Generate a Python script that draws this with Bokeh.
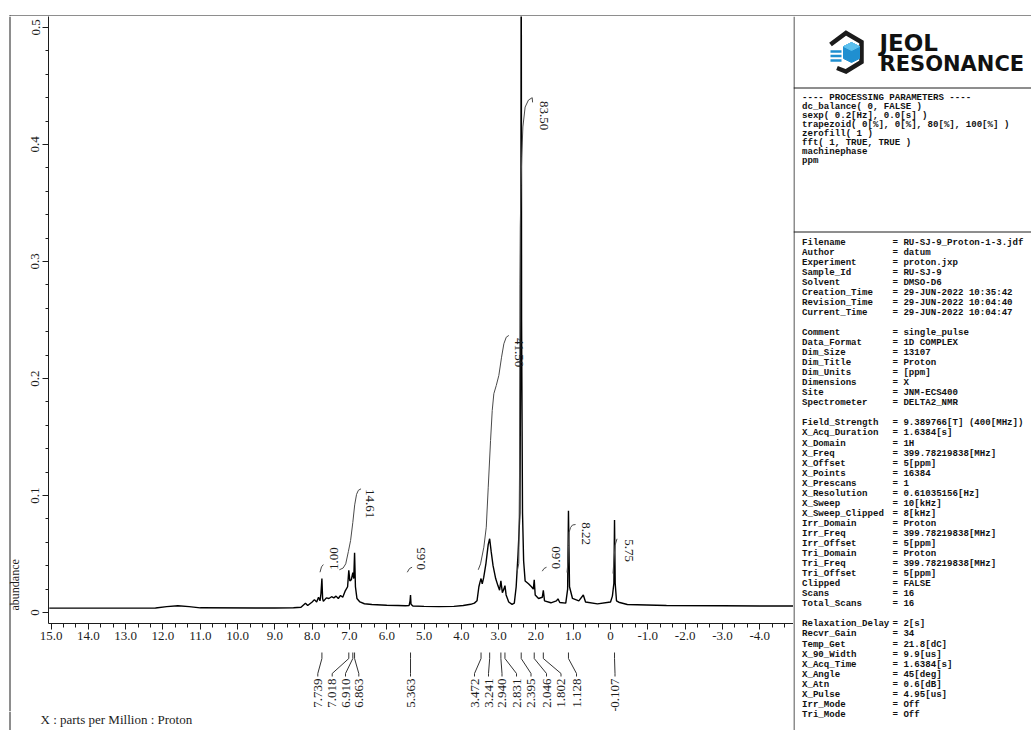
from math import pi
from bokeh.plotting import figure
from bokeh.layouts import row, column
from bokeh.models import Range1d, FixedTicker
from bokeh.core.properties import value
from bokeh.embed import file_html
from bokeh.resources import INLINE

# ---------------- data ----------------
SPEC_PPM = [
    15.05, 13.0, 12.2, 11.9, 11.6, 11.3, 11.0, 9.0, 8.5, 8.30,
    8.18, 8.12, 8.00, 7.94, 7.88, 7.83, 7.79, 7.765, 7.739, 7.72,
    7.70, 7.62, 7.55, 7.48, 7.42, 7.36, 7.30, 7.24, 7.18, 7.12,
    7.05, 7.018, 6.99, 6.95, 6.91, 6.885, 6.863, 6.84, 6.80, 6.72,
    6.60, 6.40, 6.00, 5.70, 5.50, 5.40, 5.375, 5.363, 5.35, 5.30,
    5.0, 4.6, 4.2, 3.95, 3.75, 3.65, 3.58, 3.53, 3.50, 3.472,
    3.44, 3.40, 3.34, 3.28, 3.241, 3.20, 3.15, 3.08, 3.02, 2.975,
    2.94, 2.90, 2.86, 2.831, 2.80, 2.73, 2.64, 2.58, 2.53, 2.48,
    2.43, 2.405, 2.395, 2.385, 2.36, 2.33, 2.29, 2.20, 2.12, 2.07,
    2.046, 2.02, 1.93, 1.83, 1.802, 1.77, 1.60, 1.45, 1.41, 1.36,
    1.20, 1.15, 1.128, 1.10, 1.02, 0.85, 0.73, 0.67, 0.35, 0.0,
    -0.05, -0.09, -0.107, -0.125, -0.16, -0.22, -0.45, -1.5, -3.0, -4.0,
    -4.95]
SPEC_ABUND = [
    0.0037, 0.0037, 0.0038, 0.0050, 0.0058, 0.0050, 0.0040, 0.0038, 0.0040, 0.0045,
    0.0080, 0.0060, 0.0090, 0.0110, 0.0090, 0.0130, 0.0100, 0.0160, 0.0290, 0.0120,
    0.0095, 0.0125, 0.0120, 0.0135, 0.0125, 0.0140, 0.0120, 0.0145, 0.0130, 0.0180,
    0.0220, 0.0360, 0.0270, 0.0280, 0.0340, 0.0290, 0.0510, 0.0220, 0.0120, 0.0090,
    0.0075, 0.0068, 0.0062, 0.0060, 0.0058, 0.0060, 0.0100, 0.0150, 0.0070, 0.0055,
    0.0052, 0.0050, 0.0052, 0.0060, 0.0070, 0.0080, 0.0100, 0.0220, 0.0260, 0.0290,
    0.0245, 0.0300, 0.0420, 0.0580, 0.0630, 0.0520, 0.0400, 0.0290, 0.0230, 0.0190,
    0.0270, 0.0170, 0.0200, 0.0230, 0.0150, 0.0090, 0.0070, 0.0080, 0.0220, 0.0500,
    0.0850, 0.2500, 0.6200, 0.2500, 0.0850, 0.0440, 0.0270, 0.0245, 0.0220, 0.0200,
    0.0280, 0.0150, 0.0120, 0.0130, 0.0190, 0.0100, 0.0083, 0.0100, 0.0117, 0.0085,
    0.0080, 0.0200, 0.0870, 0.0220, 0.0120, 0.0100, 0.0150, 0.0090, 0.0074, 0.0090,
    0.0140, 0.0250, 0.0790, 0.0250, 0.0100, 0.0088, 0.0068, 0.0060, 0.0058, 0.0055,
    0.0055]

INT_LABELS = ["1.00", "14.61", "0.65", "41.50", "83.50", "0.60", "8.22", "5.75"]
INT_PPM = [
    [7.79, 7.75, 7.70],
    [7.27, 7.17, 7.10, 7.03, 6.97, 6.91, 6.86, 6.81, 6.76, 6.69],
    [5.45, 5.39, 5.32],
    [3.547, 3.485, 3.397, 3.332, 3.279, 3.217, 3.172, 3.129, 3.064, 2.995, 2.922, 2.86, 2.796, 2.727],
    [2.507, 2.46, 2.44, 2.43, 2.42, 2.40, 2.38, 2.35, 2.29, 2.20, 2.10, 2.09],
    [1.831, 1.783, 1.716],
    [1.166, 1.139, 1.126, 1.113, 1.072, 1.019, 0.938],
    [-0.067, -0.121, -0.174],
]
INT_ABUND = [
    [0.0344, 0.0390, 0.0410],
    [0.0365, 0.0380, 0.0416, 0.0520, 0.0615, 0.0770, 0.0920, 0.1010, 0.1045, 0.1057],
    [0.0344, 0.0376, 0.0387],
    [0.0365, 0.0416, 0.0558, 0.0729, 0.1071, 0.1470, 0.1726, 0.1870, 0.1940, 0.2026, 0.2182, 0.2297, 0.2353, 0.2368],
    [0.0342, 0.0420, 0.1200, 0.2800, 0.3300, 0.3650, 0.3900, 0.4150, 0.4320, 0.4380, 0.4400, 0.4360],
    [0.0353, 0.0376, 0.0387],
    [0.0342, 0.0444, 0.0573, 0.0684, 0.0726, 0.0748, 0.0752],
    [0.0333, 0.0573, 0.0630],
]

PEAK_PPM = [7.739, 7.018, 6.910, 6.863, 5.363, 3.472, 3.241, 2.940, 2.831,
            2.395, 2.046, 1.802, 1.128, -0.107]
PEAK_LABELS = ["7.739", "7.018", "6.910", "6.863", "5.363", "3.472", "3.241",
               "2.940", "2.831", "2.395", "2.046", "1.802", "1.128", "-0.107"]

X_TICKS = [15.0, 14.0, 13.0, 12.0, 11.0, 10.0, 9.0, 8.0, 7.0, 6.0, 5.0, 4.0,
           3.0, 2.0, 1.0, 0.0, -1.0, -2.0, -3.0, -4.0]
X_TICK_LABELS = ["15.0", "14.0", "13.0", "12.0", "11.0", "10.0", "9.0", "8.0",
                 "7.0", "6.0", "5.0", "4.0", "3.0", "2.0", "1.0", "0", "-1.0",
                 "-2.0", "-3.0", "-4.0"]
Y_TICKS = [0.0, 0.1, 0.2, 0.3, 0.4, 0.5]
Y_TICK_LABELS = ["0", "0.1", "0.2", "0.3", "0.4", "0.5"]

X_TITLE = "X : parts per Million : Proton"
Y_TITLE = "abundance"

PROC_LINES = [
    "---- PROCESSING PARAMETERS ----",
    "dc_balance( 0, FALSE )",
    "sexp( 0.2[Hz], 0.0[s] )",
    "trapezoid( 0[%], 0[%], 80[%], 100[%] )",
    "zerofill( 1 )",
    "fft( 1, TRUE, TRUE )",
    "machinephase",
    "ppm",
]
PARAM_NAMES = [
    "Filename", "Author", "Experiment", "Sample_Id", "Solvent", "Creation_Time",
    "Revision_Time", "Current_Time", "",
    "Comment", "Data_Format", "Dim_Size", "Dim_Title", "Dim_Units", "Dimensions",
    "Site", "Spectrometer", "",
    "Field_Strength", "X_Acq_Duration", "X_Domain", "X_Freq", "X_Offset",
    "X_Points", "X_Prescans", "X_Resolution", "X_Sweep", "X_Sweep_Clipped",
    "Irr_Domain", "Irr_Freq", "Irr_Offset", "Tri_Domain", "Tri_Freq",
    "Tri_Offset", "Clipped", "Scans", "Total_Scans", "",
    "Relaxation_Delay", "Recvr_Gain", "Temp_Get", "X_90_Width", "X_Acq_Time",
    "X_Angle", "X_Atn", "X_Pulse", "Irr_Mode", "Tri_Mode",
]
PARAM_VALUES = [
    "RU-SJ-9_Proton-1-3.jdf", "datum", "proton.jxp", "RU-SJ-9", "DMSO-D6",
    "29-JUN-2022 10:35:42", "29-JUN-2022 10:04:40", "29-JUN-2022 10:04:47", "",
    "single_pulse", "1D COMPLEX", "13107", "Proton", "[ppm]", "X",
    "JNM-ECS400", "DELTA2_NMR", "",
    "9.389766[T] (400[MHz])", "1.6384[s]", "1H", "399.78219838[MHz]", "5[ppm]",
    "16384", "1", "0.61035156[Hz]", "10[kHz]", "8[kHz]",
    "Proton", "399.78219838[MHz]", "5[ppm]", "Proton", "399.78219838[MHz]",
    "5[ppm]", "FALSE", "16", "16", "",
    "2[s]", "34", "21.8[dC]", "9.9[us]", "1.6384[s]",
    "45[deg]", "0.6[dB]", "4.95[us]", "Off", "Off",
]

# ---------------- layout (page pixels) ----------------
PAGE_W, PAGE_H = 1031, 730
TOP_H = 16                      # strip holding the top rule
LEFT_W = 21                     # strip holding "abundance"
PANEL_X0 = 793                  # right information panel
MAIN_W = PANEL_X0 - LEFT_W      # 772
MAIN_BORDER_L = 27              # y axis space -> frame starts at x=48
FRAME_X0 = LEFT_W + MAIN_BORDER_L
FRAME_W = PANEL_X0 - FRAME_X0   # 745
FRAME_Y1 = 623                  # frame bottom (page y)
MAIN_Y1 = 650                   # bottom of the main figure
PICK_Y1 = 711                   # bottom of the peak-pick strip
MAIN_H = MAIN_Y1 - TOP_H
PICK_H = PICK_Y1 - MAIN_Y1
BOTTOM_H = PAGE_H - PICK_Y1

X_START, X_END = 15.07, -4.906
Y_START, Y_END = -0.0094, 0.5094
PX_PER_PPM = FRAME_W / (X_START - X_END)

SERIF = "Liberation Serif"
MONO = "Liberation Mono"
INK = "#1c1c1c"


def px_to_ppm(X):
    return X_START - (X - FRAME_X0) / PX_PER_PPM


def blank(w, h, xr, yr):
    f = figure(width=w, height=h, x_range=xr, y_range=yr, output_backend="svg",
               toolbar_location=None, x_axis_type=None, y_axis_type=None,
               min_border=0)
    f.outline_line_color = None
    f.background_fill_color = "white"
    f.border_fill_color = "white"
    return f


# ---- main spectrum plot ----
main = figure(width=MAIN_W, height=MAIN_H, output_backend="svg", toolbar_location=None,
              x_range=Range1d(X_START, X_END), y_range=Range1d(Y_START, Y_END),
              min_border_left=MAIN_BORDER_L, min_border_right=0, min_border_top=0,
              min_border_bottom=MAIN_Y1 - FRAME_Y1)
main.grid.visible = False
main.outline_line_color = None
main.background_fill_color = "white"
main.border_fill_color = "white"

minor_x = [k / 3 for k in range(-14, 46) if k % 3]
main.xaxis.ticker = FixedTicker(ticks=X_TICKS, minor_ticks=minor_x)
main.xaxis.major_label_overrides = dict(zip(X_TICKS, X_TICK_LABELS))
minor_y = [k / 50 for k in range(0, 26) if k % 5]
main.yaxis.ticker = FixedTicker(ticks=Y_TICKS, minor_ticks=minor_y)
main.yaxis.major_label_overrides = dict(zip(Y_TICKS, Y_TICK_LABELS))
main.yaxis.major_label_orientation = "vertical"
for ax in (main.xaxis, main.yaxis):
    ax.axis_line_color = INK
    ax.major_tick_line_color = INK
    ax.minor_tick_line_color = INK
    ax.major_tick_in = 0
    ax.minor_tick_in = 0
    ax.major_tick_out = 6
    ax.minor_tick_out = 4
    ax.major_label_text_font = SERIF
    ax.major_label_text_font_size = "13px"
    ax.major_label_text_color = INK
main.yaxis.major_tick_out = 6
main.yaxis.minor_tick_out = 3
main.xaxis.major_label_standoff = 2
main.yaxis.major_label_standoff = 3

main.line(SPEC_PPM, SPEC_ABUND, line_color="black", line_width=1.4)
for xs, ys in zip(INT_PPM, INT_ABUND):
    main.line(xs, ys, line_color="#4a4a4a", line_width=1)

# integral values: page-pixel layout positions converted through the axis spans
INT_POS = [(333.5, 558, pi / 2), (369.5, 503, -pi / 2), (420, 558, pi / 2),
           (518, 352, -pi / 2), (543.5, 115, -pi / 2), (555, 557, pi / 2),
           (585, 533, -pi / 2), (628.5, 550, -pi / 2)]
ab_per_px = (Y_END - Y_START) / (FRAME_Y1 - TOP_H)
for lab, (X, Y, ang) in zip(INT_LABELS, INT_POS):
    main.text(x=[px_to_ppm(X)], y=[Y_START + (FRAME_Y1 - Y) * ab_per_px], text=[lab],
              angle=ang, text_font=value(SERIF), text_font_size="13px",
              text_color=INK, text_align="center", text_baseline="middle")

# ---- strip below the x axis: peak picks (frame aligned with the main plot) ----
pick = blank(MAIN_W, PICK_H, main.x_range, Range1d(-PICK_Y1, -MAIN_Y1))
LABEL_X = [317.3, 331.7, 345.0, 358.3, 410.0, 474.0, 488.0, 501.5, 516.0,
           530.5, 546.0, 560.5, 576.0, 614.5]
lab_ppm = [px_to_ppm(X) for X in LABEL_X]
pick.multi_line(xs=[[a, a, b, b] for a, b in zip(PEAK_PPM, lab_ppm)],
                ys=[[-652, -658, -673, -676]] * len(PEAK_PPM),
                line_color="#333333", line_width=1)
pick.text(x=lab_ppm, y=[-678] * len(lab_ppm), text=PEAK_LABELS, angle=pi / 2,
          text_font=value(SERIF), text_font_size="13px", text_color=INK,
          text_align="right", text_baseline="middle")

# ---- bottom strip: x axis title ----
bottom = blank(PANEL_X0, BOTTOM_H, Range1d(0, PANEL_X0), Range1d(-PAGE_H, -PICK_Y1))
bottom.line([9.5, 9.5], [-PICK_Y1, -PAGE_H], line_color=INK, line_width=1)
bottom.text(x=[40], y=[-718.5], text=[X_TITLE], text_font=value(SERIF),
            text_font_size="13px", text_color=INK, text_align="left",
            text_baseline="middle")

# ---- top strip ----
top = blank(PAGE_W, TOP_H, Range1d(0, PAGE_W), Range1d(-TOP_H, 0))
top.line([9, PAGE_W], [-15.5, -15.5], line_color=INK, line_width=1)
top.line([9.5, 9.5], [-15, -TOP_H], line_color=INK, line_width=1)

# ---- left strip ----
left = blank(LEFT_W, PICK_Y1 - TOP_H, Range1d(0, LEFT_W), Range1d(-PICK_Y1, -TOP_H))
left.line([9.5, 9.5], [-TOP_H, -PICK_Y1], line_color=INK, line_width=1)
left.text(x=[14.5], y=[-610], text=[Y_TITLE], angle=pi / 2,
          text_font=value(SERIF), text_font_size="12px", text_color=INK,
          text_align="left", text_baseline="middle")

# ---- right information panel ----
panel = blank(PAGE_W - PANEL_X0, PAGE_H - TOP_H, Range1d(PANEL_X0, PAGE_W),
              Range1d(-PAGE_H, -TOP_H))
panel.line([793.5, 793.5], [-TOP_H, -PAGE_H], line_color=INK, line_width=1)
panel.line([793, PAGE_W], [-87.5, -87.5], line_color=INK, line_width=1)
panel.line([793, PAGE_W], [-231.5, -231.5], line_color=INK, line_width=1)

# logo
panel.line([830, 845.5, 861, 861, 845.5, 836.5], [-44, -32.5, -41.5, -61.5, -71, -67.5],
           line_color="#1b1b1b", line_width=4.5, line_join="miter")
panel.patch([843, 851, 859, 859, 851, 843], [-46, -42, -46, -58, -62, -58],
            fill_color="#1f8fd0", line_color="#1f8fd0")
panel.patch([843, 851, 859, 851], [-46, -42, -46, -50], fill_color="#5cc0ee",
            line_color="#5cc0ee")
for Yl in (51, 55.5, 60):
    panel.line([830, 841], [-Yl, -Yl], line_color="#1f8fd0", line_width=2.5)
panel.text(x=[879], y=[-42.5], text=["JEOL"],
           text_font=value("DejaVu Sans"), text_font_style="bold",
           text_font_size=value("23px"), text_color="#111111",
           text_align="left", text_baseline="middle")
panel.text(x=[879], y=[-63.5], text=["RESONANCE"],
           text_font=value("DejaVu Sans"), text_font_style="bold",
           text_font_size=value("21px"), text_color="#111111",
           text_align="left", text_baseline="middle")

proc_y = [-(97 + i * 9.05) for i in range(len(PROC_LINES))]
panel.text(x=[801.5] * len(PROC_LINES), y=proc_y, text=PROC_LINES,
           text_font=value(MONO), text_font_style="bold", text_font_size="9.1px",
           text_color="#111111", text_align="left", text_baseline="middle")

rows = [(i, n, v) for i, (n, v) in enumerate(zip(PARAM_NAMES, PARAM_VALUES)) if n]
par_y = [-(241.5 + i * 10.05) for i, n, v in rows]
panel.text(x=[801.5] * len(rows), y=par_y, text=[n for i, n, v in rows],
           text_font=value(MONO), text_font_style="bold", text_font_size="9.1px",
           text_color="#111111", text_align="left", text_baseline="middle")
panel.text(x=[892] * len(rows), y=par_y, text=["= " + v for i, n, v in rows],
           text_font=value(MONO), text_font_style="bold", text_font_size="9.1px",
           text_color="#111111", text_align="left", text_baseline="middle")

layout = column(
    top,
    row(column(row(left, column(main, pick)), bottom), panel),
)
open("out.html", "w").write(file_html(layout, INLINE))
